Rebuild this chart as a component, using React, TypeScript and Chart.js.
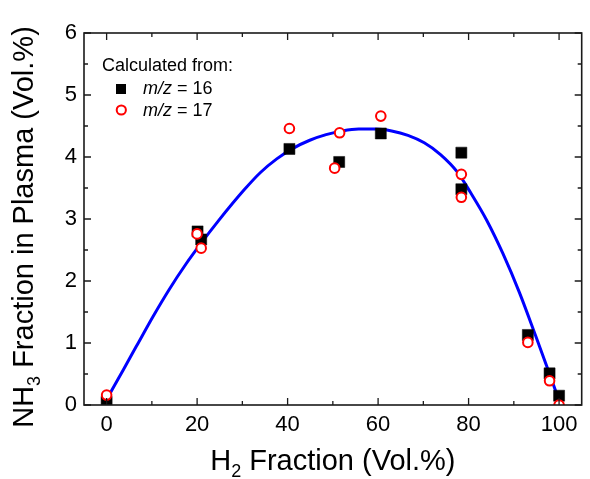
import React, { useEffect, useRef } from "react";
import { Chart, registerables } from "chart.js";

Chart.register(...registerables);

// ---- data ----
const SQ_X = [0, 20.1, 20.9, 40.4, 51.4, 60.6, 78.4, 78.4, 93.1, 97.9, 100];
const SQ_Y = [0.05, 2.8, 2.67, 4.13, 3.92, 4.38, 4.07, 3.48, 1.13, 0.51, 0.15];

const CI_X = [0, 20.0, 20.9, 40.4, 50.4, 51.5, 60.6, 78.4, 78.4, 93.1, 97.9, 100];
const CI_Y = [0.16, 2.76, 2.53, 4.46, 3.82, 4.39, 4.66, 3.72, 3.35, 1.01, 0.39, 0.0];

const FIT_X = [0, 3.7, 6.6, 10.2, 13.8, 17.5, 21.1, 24.7, 30.4, 34.0, 37.6, 41.2, 44.9, 48.5, 52.1, 55.7, 59.3, 63.0, 66.6, 70.2, 73.8, 77.5, 80.4, 84.0, 87.6, 91.2, 94.8, 97.8, 100];
const FIT_Y = [0.09, 0.57, 0.95, 1.42, 1.86, 2.27, 2.63, 2.97, 3.47, 3.75, 3.97, 4.14, 4.27, 4.36, 4.42, 4.45, 4.45, 4.42, 4.35, 4.23, 4.04, 3.76, 3.43, 2.98, 2.44, 1.82, 1.12, 0.52, 0.07];

const X_TICKS = [0, 20, 40, 60, 80, 100];
const X_MINOR = [10, 30, 50, 70, 90];
const Y_TICKS = [0, 1, 2, 3, 4, 5, 6];
const Y_MINOR = [0.5, 1.5, 2.5, 3.5, 4.5, 5.5];

const LEGEND_TITLE = "Calculated from:";
const SERIES_16 = "16";
const SERIES_17 = "17";
const X_TITLE = ["H", "2", " Fraction (Vol.%)"];
const Y_TITLE = ["NH", "3", " Fraction in Plasma (Vol.%)"];

const FONT = '"Liberation Sans", Arial, sans-serif';

const zip = (xs: number[], ys: number[]) => xs.map((x, i) => ({ x, y: ys[i] }));

function drawSubTitle(ctx: CanvasRenderingContext2D, parts: string[], size: number, subSize: number, subDrop: number) {
  ctx.font = `${size}px ${FONT}`;
  const w0 = ctx.measureText(parts[0]).width;
  const w2 = ctx.measureText(parts[2]).width;
  ctx.font = `${subSize}px ${FONT}`;
  const w1 = ctx.measureText(parts[1]).width;
  const total = w0 + w1 + w2;
  let x = -total / 2;
  ctx.textAlign = "left";
  ctx.textBaseline = "alphabetic";
  ctx.font = `${size}px ${FONT}`;
  ctx.fillText(parts[0], x, 0);
  x += w0;
  ctx.font = `${subSize}px ${FONT}`;
  ctx.fillText(parts[1], x, subDrop);
  x += w1;
  ctx.font = `${size}px ${FONT}`;
  ctx.fillText(parts[2], x, 0);
}

const framePlugin = {
  id: "frame",
  afterDatasetsDraw(chart: any) {
    const { ctx, chartArea } = chart;
    const { left, right, top, bottom } = chartArea;
    const xs = chart.scales.x;
    const ys = chart.scales.y;
    ctx.save();
    ctx.strokeStyle = "#1a1a1a";
    ctx.lineWidth = 1.6;
    ctx.strokeRect(left, top, right - left, bottom - top);
    ctx.lineWidth = 1.3;
    const major = 7;
    const minor = 4;
    ctx.beginPath();
    const xt = (v: number, len: number) => {
      const p = xs.getPixelForValue(v);
      ctx.moveTo(p, bottom);
      ctx.lineTo(p, bottom - len);
      ctx.moveTo(p, top);
      ctx.lineTo(p, top + len);
    };
    const yt = (v: number, len: number) => {
      const p = ys.getPixelForValue(v);
      ctx.moveTo(left, p);
      ctx.lineTo(left + len, p);
      ctx.moveTo(right, p);
      ctx.lineTo(right - len, p);
    };
    X_TICKS.forEach((v) => xt(v, major));
    X_MINOR.forEach((v) => xt(v, minor));
    Y_TICKS.forEach((v) => yt(v, major));
    Y_MINOR.forEach((v) => yt(v, minor));
    ctx.stroke();

    // legend
    ctx.fillStyle = "#000";
    ctx.textAlign = "left";
    ctx.textBaseline = "alphabetic";
    ctx.font = `18px ${FONT}`;
    ctx.fillText(LEGEND_TITLE, 102, 71);
    ctx.fillRect(116, 84, 10, 10);
    ctx.beginPath();
    ctx.arc(121.3, 110, 4.6, 0, Math.PI * 2);
    ctx.fillStyle = "#fff";
    ctx.fill();
    ctx.strokeStyle = "#ff0000";
    ctx.lineWidth = 2;
    ctx.stroke();
    ctx.fillStyle = "#000";
    const item = (val: string, y: number) => {
      ctx.font = `italic 18px ${FONT}`;
      ctx.fillText("m/z", 143, y);
      const w = ctx.measureText("m/z").width;
      ctx.font = `18px ${FONT}`;
      ctx.fillText(" = " + val, 143 + w, y);
    };
    item(SERIES_16, 94);
    item(SERIES_17, 116);

    // axis titles
    ctx.save();
    ctx.translate((left + right) / 2, 470);
    drawSubTitle(ctx, X_TITLE, 29, 18, 7);
    ctx.restore();
    ctx.save();
    ctx.translate(33, 227);
    ctx.rotate(-Math.PI / 2);
    drawSubTitle(ctx, Y_TITLE, 29, 18, 7);
    ctx.restore();

    ctx.restore();
  },
};

export default function App() {
  const ref = useRef<HTMLCanvasElement | null>(null);
  useEffect(() => {
    document.body.style.margin = "0";
    const canvas = ref.current;
    if (!canvas) return;
    const chart = new Chart(canvas, {
      type: "scatter",
      data: {
        datasets: [
          {
            label: "m/z = 17",
            data: zip(CI_X, CI_Y),
            pointStyle: "circle",
            pointRadius: 4.8,
            pointBorderWidth: 2,
            pointBorderColor: "#ff0000",
            pointBackgroundColor: "#ffffff",
            order: 1,
          },
          {
            label: "m/z = 16",
            data: zip(SQ_X, SQ_Y),
            pointStyle: "rect",
            pointRadius: 7.8,
            pointBorderWidth: 0.5,
            pointBorderColor: "#000",
            pointBackgroundColor: "#000",
            order: 2,
          },
          {
            label: "fit",
            data: zip(FIT_X, FIT_Y),
            showLine: true,
            pointRadius: 0,
            borderColor: "#0000ff",
            borderWidth: 3,
            cubicInterpolationMode: "monotone",
            order: 3,
          } as any,
        ],
      },
      options: {
        animation: false,
        responsive: false,
        devicePixelRatio: 1,
        layout: { padding: { top: 33, right: 1, left: 0, bottom: 0 } },
        plugins: { legend: { display: false }, tooltip: { enabled: false } },
        scales: {
          x: {
            type: "linear",
            min: -5,
            max: 105,
            grid: { display: false, drawTicks: false },
            border: { display: false },
            afterBuildTicks: (s: any) => {
              s.ticks = X_TICKS.map((v) => ({ value: v }));
            },
            afterFit: (s: any) => {
              s.height = 74;
            },
            ticks: {
              padding: 7,
              color: "#000",
              font: { family: FONT, size: 22 },
              maxRotation: 0,
            },
          },
          y: {
            type: "linear",
            min: 0,
            max: 6,
            grid: { display: false, drawTicks: false },
            border: { display: false },
            afterBuildTicks: (s: any) => {
              s.ticks = Y_TICKS.map((v) => ({ value: v }));
            },
            afterFit: (s: any) => {
              s.width = 84;
            },
            ticks: {
              padding: 7,
              color: "#000",
              font: { family: FONT, size: 22 },
            },
          },
        },
      },
      plugins: [framePlugin],
    });
    return () => chart.destroy();
  }, []);
  return (
    <div style={{ width: 590, height: 479, background: "#fff" }}>
      <canvas ref={ref} width={590} height={479} />
    </div>
  );
}
